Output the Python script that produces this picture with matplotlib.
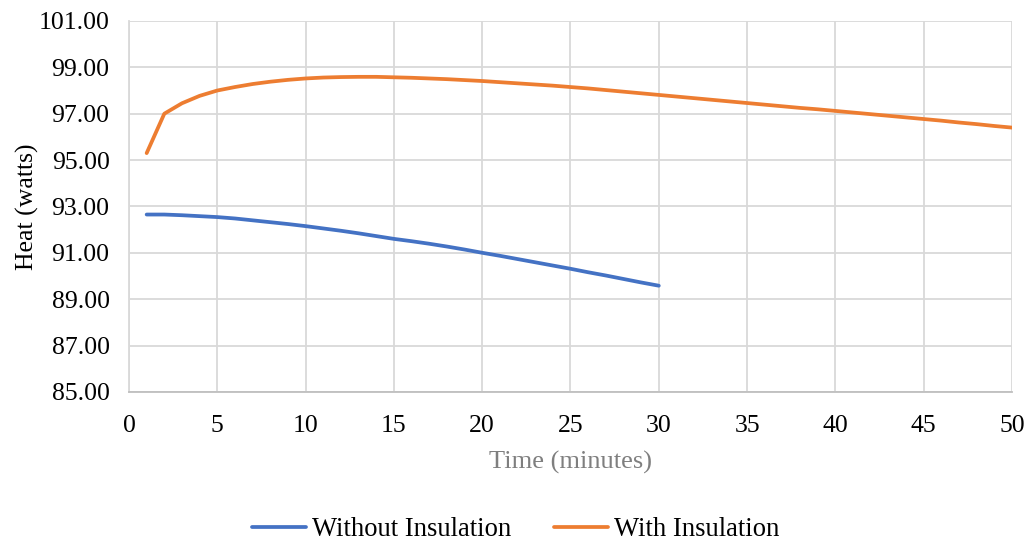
import matplotlib.pyplot as plt
import numpy as np

plt.rcParams['font.family'] = ['Liberation Serif', 'DejaVu Serif']

# time in minutes
t_without = list(range(1, 31))
t_with = list(range(1, 51))

heat_without = [92.65, 92.65, 92.62, 92.58, 92.54, 92.48, 92.40, 92.32, 92.24, 92.15,
                92.05, 91.95, 91.84, 91.72, 91.60, 91.50, 91.39, 91.27, 91.14, 91.00,
                90.87, 90.73, 90.59, 90.45, 90.31, 90.16, 90.02, 89.87, 89.72, 89.58]

heat_with = [95.30, 97.00, 97.45, 97.77, 98.00, 98.15, 98.28, 98.38, 98.46, 98.52,
             98.56, 98.58, 98.59, 98.59, 98.57, 98.55, 98.52, 98.49, 98.45, 98.41,
             98.36, 98.31, 98.26, 98.21, 98.15, 98.09, 98.02, 97.95, 97.88, 97.81,
             97.74, 97.67, 97.60, 97.53, 97.46, 97.39, 97.32, 97.25, 97.19, 97.12,
             97.05, 96.98, 96.91, 96.84, 96.77, 96.70, 96.62, 96.55, 96.47, 96.40]

fig = plt.figure(figsize=(10.32, 5.42), dpi=100)
ax = fig.add_axes([0.125, 0.277, 0.8556, 0.6843])

ax.plot(t_without, heat_without, color='#4472C4', lw=2.7, label='Without Insulation',
        solid_capstyle='round')
ax.plot(t_with, heat_with, color='#ED7D31', lw=2.7, label='With Insulation',
        solid_capstyle='round')

ax.set_xlim(0, 50)
ax.set_ylim(85, 101)
ax.set_xticks(np.arange(0, 51, 5))
ax.set_yticks(np.arange(85, 102, 2))
ax.set_yticklabels(['%.2f' % v for v in np.arange(85, 102, 2)])
ax.grid(True, color='#d9d9d9', lw=1.3)
ax.set_axisbelow(True)
for s in ['top', 'right']:
    ax.spines[s].set_visible(False)
ax.spines['left'].set_color('#d9d9d9')
ax.spines['bottom'].set_color('#bfbfbf')
ax.spines['left'].set_linewidth(1.3)
ax.spines['bottom'].set_linewidth(1.3)
ax.tick_params(axis='y', length=0, labelsize=18.5, pad=14)
ax.tick_params(axis='x', length=0, labelsize=18.5, pad=17)

ax.set_xlabel('Time (minutes)', fontsize=19, color='#7f7f7f', labelpad=10)
ax.set_ylabel('Heat (watts)', fontsize=18.5, labelpad=0)

fig.legend(loc='lower center', bbox_to_anchor=(0.5, -0.045), ncol=2, frameon=False,
           fontsize=19.2, handlelength=2.0, columnspacing=1.6, handletextpad=0.25)

fig.savefig('out.png', dpi=100)
